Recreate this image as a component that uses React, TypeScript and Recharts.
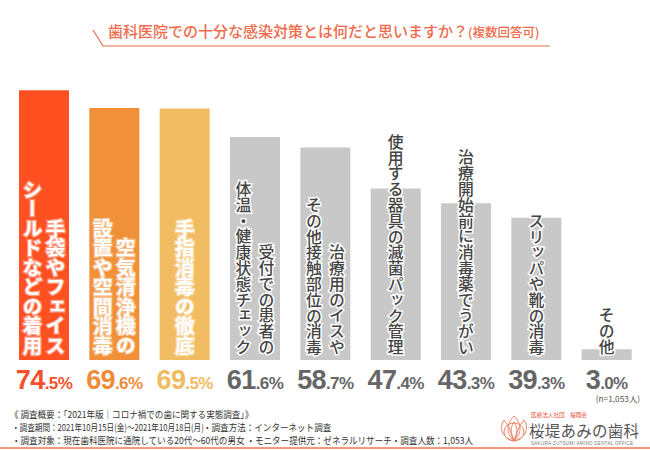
import React from "react";
import { BarChart, Bar, XAxis, YAxis, Cell, LabelList } from "recharts";

const categories = [
  "手袋やフェイスシールドなどの着用",
  "空気清浄機の設置や空間消毒",
  "手指消毒の徹底",
  "受付での患者の体温・健康状態チェック",
  "治療用のイスやその他接触部位の消毒",
  "使用する器具の滅菌パック管理",
  "治療開始前に消毒薬でうがい",
  "スリッパや靴の消毒",
  "その他",
];

// each label split into columns, right column first
const labelColumns = [
  ["手袋やフェイス", "シールドなどの着用"],
  ["空気清浄機の", "設置や空間消毒"],
  ["手指消毒の徹底"],
  ["受付での患者の", "体温・健康状態チェック"],
  ["治療用のイスや", "その他接触部位の消毒"],
  ["使用する器具の滅菌パック管理"],
  ["治療開始前に消毒薬でうがい"],
  ["スリッパや靴の消毒"],
  ["その他"],
];

const values = [74.5, 69.6, 69.5, 61.6, 58.7, 47.4, 43.3, 39.3, 3.0];

const barColors = ["#FF5022", "#F09038", "#F2BD62", "#C8C8C8", "#C8C8C8", "#C8C8C8", "#C8C8C8", "#C8C8C8", "#C8C8C8"];
const pctColors = ["#F4502A", "#EE8C3A", "#F1BB62", "#666666", "#666666", "#666666", "#666666", "#666666", "#666666"];

const data = categories.map((name, i) => ({ name, value: values[i] }));

const JP = "'Noto Sans CJK JP', 'Noto Sans', sans-serif";
const NUM = "'Liberation Sans', Arial, sans-serif";

const BOTTOM = 360;

const VerticalLabel = (props: any) => {
  const { x, width, index } = props;
  const cols = labelColumns[index];
  const cx = x + width / 2;
  const colored = index < 3;
  const fs = colored ? 19.5 : 15.8;
  const gap = 23;
  return (
    <g>
      {cols.map((c, j) => {
        const off = cols.length === 1 ? 0 : j === 0 ? gap / 2 : -gap / 2;
        return (
          <text
            key={j}
            x={cx + off}
            y={BOTTOM - 5}
            textAnchor="end"
            style={{ writingMode: "vertical-rl" } as any}
            fontFamily={JP}
            fontSize={fs}
            fontWeight={colored ? 700 : 500}
            fill={colored ? "#FFFFFF" : "#444444"}
            stroke={colored ? "rgba(255,255,255,0.45)" : "#FFFFFF"}
            strokeWidth={colored ? 2.5 : 3}
            paintOrder="stroke"
          >
            {c}
          </text>
        );
      })}
    </g>
  );
};

const PctLabel = (props: any) => {
  const { x, width, index } = props;
  const v = values[index].toFixed(1);
  const [intPart, dec] = v.split(".");
  return (
    <text
      x={x + width / 2}
      y={389}
      textAnchor="middle"
      fontFamily={NUM}
      fontWeight={700}
      fill={pctColors[index]}
      letterSpacing={-0.6}
    >
      <tspan fontSize={27}>{intPart}</tspan>
      <tspan fontSize={17}>{"." + dec + "%"}</tspan>
    </text>
  );
};

const footStyle: React.CSSProperties = {
  position: "absolute",
  left: 10,
  fontFamily: JP,
  fontSize: 9.5,
  color: "#333",
  whiteSpace: "nowrap",
  lineHeight: "12px",
  transform: "scaleX(0.9)",
  transformOrigin: "left center",
};

export default function App() {
  return (
    <div style={{ position: "fixed", left: 0, top: 0, width: 650, height: 450, background: "#fff", overflow: "hidden" }}>
      <BarChart
        width={650}
        height={450}
        data={data}
        margin={{ top: 70.4, right: 8, left: 9, bottom: 90 }}
        barSize={50}
      >
        <XAxis dataKey="name" hide />
        <YAxis domain={[0, 80]} hide />
        <Bar dataKey="value" isAnimationActive={false}>
          {data.map((d, i) => (
            <Cell key={i} fill={barColors[i]} />
          ))}
          <LabelList dataKey="value" content={VerticalLabel} />
          <LabelList dataKey="value" content={PctLabel} />
        </Bar>
      </BarChart>

      <svg width={650} height={450} style={{ position: "absolute", left: 0, top: 0, pointerEvents: "none" }}>
        <polyline points="93,30 103,46 550,46" fill="none" stroke="#EE6B4D" strokeWidth={1.2} />
        <text x={108} y={37} fontFamily={JP} fontSize={15} fontWeight={500} fill="#EE6B4D">
          歯科医院での十分な感染対策とは何だと思いますか？
          <tspan fontSize={12.5}>(複数回答可)</tspan>
        </text>
        <text x={640} y={401.5} textAnchor="end" fontFamily={JP} fontSize={8.3} fill="#555">
          (n=1,053人)
        </text>
        <line x1={0} y1={448} x2={650} y2={448} stroke="#EE7A5A" strokeWidth={1.5} />
        {/* logo */}
        <g fill="none" stroke="#EE8466" strokeWidth={1}>
          <ellipse cx={514} cy={432} rx={10} ry={9} />
          <path d="M514 441 C506 433 506 424 514 416 C522 424 522 433 514 441 Z" />
          <path d="M514 441 C501 437 499 428 504 420 C509 426 512 433 514 441" />
          <path d="M514 441 C527 437 529 428 524 420 C519 426 516 433 514 441" />
          <path d="M514 441 C510 434 510 428 514 422 C518 428 518 434 514 441" />
        </g>
        <text x={531} y={416.5} fontFamily={JP} fontSize={5.6} fill="#E9503A">
          医療法人社団　桜翔会
        </text>
        <text x={529} y={436.5} fontFamily={JP} fontSize={15.5} fill="#555" textLength={110}>
          桜堤あみの歯科
        </text>
        <text x={531} y={444.5} fontFamily={NUM} fontSize={4.5} fill="#777" letterSpacing={0.3}>
          SAKURA-ZUTSUMI AMINO DENTAL OFFICE
        </text>
      </svg>

      <div style={{ ...footStyle, top: 408 }}>《 調査概要：「2021年版｜コロナ禍での歯に関する実態調査」》</div>
      <div style={{ ...footStyle, top: 421, left: 12, transform: "scaleX(0.8)" }}>
        ・調査期間：2021年10月15日(金)〜2021年10月18日(月)
      </div>
      <div style={{ ...footStyle, top: 421, left: 203 }}>・調査方法：インターネット調査</div>
      <div style={{ ...footStyle, top: 434, left: 12 }}>
        ・調査対象：現在歯科医院に通院している20代〜60代の男女 ・モニター提供元：ゼネラルリサーチ・調査人数：1,053人
      </div>
    </div>
  );
}
